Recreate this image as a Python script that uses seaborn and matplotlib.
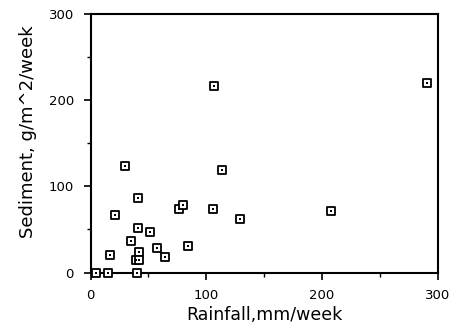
import matplotlib
matplotlib.use("Agg")
import matplotlib.pyplot as plt
import pandas as pd
import seaborn as sns

# weekly rainfall (mm/week) and sediment yield (g/m^2/week)
rainfall = [5, 15, 40.5, 17, 30, 21.5, 41, 41, 35, 42, 39, 42,
            51.5, 57, 64, 76.5, 79.5, 84.5, 105.5, 107, 114, 129, 208, 291]
sediment = [0, 0, 0, 20, 123.5, 67, 87, 52, 37, 24, 14.5, 14.5,
            46.5, 29, 17.5, 74, 78, 30.5, 74, 216, 119, 62, 71, 220]

df = pd.DataFrame({"rainfall": rainfall, "sediment": sediment})

sns.set_style("ticks")
plt.rcParams["font.family"] = ["DejaVu Sans"]
plt.rcParams["text.color"] = "black"
plt.rcParams["axes.labelcolor"] = "black"

fig = plt.figure(figsize=(4.55, 3.26), dpi=100)
ax = fig.add_axes([0.199, 0.164, 0.763, 0.793])

# open squares with a dot in the middle
sns.scatterplot(data=df, x="rainfall", y="sediment", marker="s", s=38,
                facecolor="white", edgecolor="black", linewidth=1.3,
                clip_on=False, zorder=3, ax=ax)
sns.scatterplot(data=df, x="rainfall", y="sediment", marker="s", s=3,
                color="black", linewidth=0, clip_on=False, zorder=4, ax=ax)

ax.set_xlim(0, 300)
ax.set_ylim(0, 300)
ax.set_xticks([0, 100, 200, 300])
ax.set_yticks([0, 100, 200, 300])
ax.set_xticks([50, 150, 250], minor=True)
ax.set_yticks([50, 150, 250], minor=True)
ax.tick_params(which="major", direction="out", length=5, width=1.2,
               labelsize=9.5, color="black", labelcolor="black")
ax.tick_params(which="minor", direction="out", length=3, width=1, color="black")
ax.tick_params(axis="x", which="major", pad=7)
ax.tick_params(axis="y", which="major", pad=7)
for sp in ax.spines.values():
    sp.set_linewidth(1.5)
    sp.set_color("black")
    sp.set_visible(True)

ax.set_xlabel("Rainfall,mm/week", fontsize=12.5, labelpad=3)
ax.set_ylabel("Sediment, g/m^2/week", fontsize=13)
ax.yaxis.set_label_coords(-0.155, 0.545)

fig.savefig("out.png", dpi=100)
